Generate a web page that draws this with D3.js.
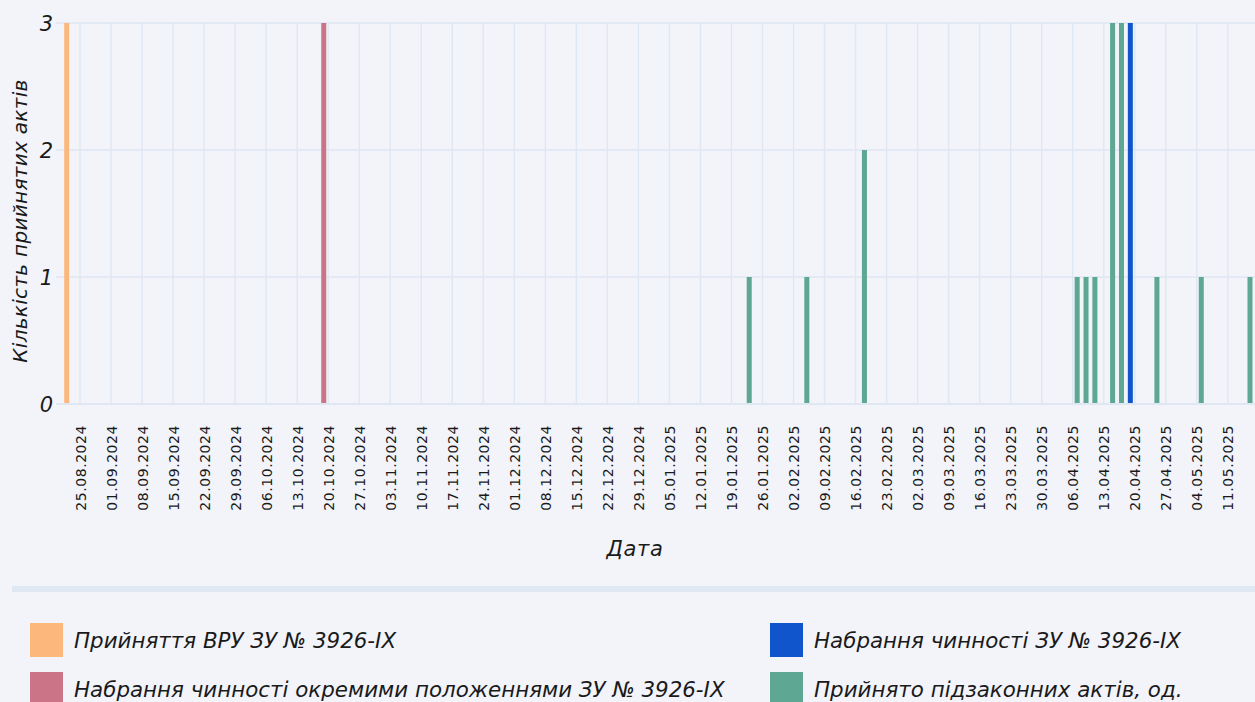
<!DOCTYPE html>
<html>
<head>
<meta charset="utf-8">
<script src="https://cdn.jsdelivr.net/npm/d3@7"></script>
<style>
  html, body { margin: 0; padding: 0; background: #f2f4fa; overflow: hidden; }
  svg { display: block; font-family: "DejaVu Sans", sans-serif; }
</style>
</head>
<body>
<svg id="drawing_region"></svg>
<script>
// series: dates and counts
const adoptDates = ['2024-08-22'];
const adoptValues = [3];

const partialDates = ['2024-10-19'];
const partialValues = [3];

const effectDates = ['2025-04-19'];
const effectValues = [3];

const actsDates = ['2025-01-23','2025-02-05','2025-02-18','2025-04-07','2025-04-09','2025-04-11',
                   '2025-04-15','2025-04-17','2025-04-25','2025-05-05','2025-05-16'];
const actsValues = [1,1,2,1,1,1,3,3,1,1,1];

const seriesNames = ['Прийняття ВРУ ЗУ № 3926-IX',
                     'Набрання чинності окремими положеннями ЗУ № 3926-IX',
                     'Набрання чинності ЗУ № 3926-IX',
                     'Прийнято підзаконних актів, од.'];
const seriesColors = ['#fcb87c', '#cc7487', '#1155cc', '#5da793'];

const yTicks = [0, 1, 2, 3];
// x range of the axis (bar period is one day)
const xStart = '2024-08-19T14:00:00Z';
const xEnd = '2025-05-17T08:30:00Z';
const barDays = 1.13;

const series = [
    {name: seriesNames[0], color: seriesColors[0], dates: adoptDates, values: adoptValues},
    {name: seriesNames[1], color: seriesColors[1], dates: partialDates, values: partialValues},
    {name: seriesNames[2], color: seriesColors[2], dates: effectDates, values: effectValues},
    {name: seriesNames[3], color: seriesColors[3], dates: actsDates, values: actsValues}
];

const config = {
    width: 1255,
    height: 702,
    margin: {top: 23, left: 56},
    inner_width: 1200,
    inner_height: 381,
    grid: '#dfe7f3'
};

const svg = d3.select('#drawing_region')
    .attr('width', config.width)
    .attr('height', config.height);

svg.append('rect')
    .attr('width', config.width)
    .attr('height', config.height)
    .attr('fill', '#f2f4fa');

const chart = svg.append('g')
    .attr('transform', `translate(${config.margin.left}, ${config.margin.top})`);

const xscale = d3.scaleUtc()
    .domain([new Date(xStart), new Date(xEnd)])
    .range([0, config.inner_width]);

const yscale = d3.scaleLinear()
    .domain([0, 3])
    .range([config.inner_height, 0]);

const weeks = d3.utcSunday.range(new Date(xStart), new Date(xEnd));

// grid
chart.selectAll('.vgrid')
    .data(weeks)
    .enter()
    .append('line')
    .attr('x1', d => xscale(d))
    .attr('x2', d => xscale(d))
    .attr('y1', 0)
    .attr('y2', config.inner_height)
    .attr('stroke', config.grid)
    .attr('stroke-width', 1.4);

chart.selectAll('.hgrid')
    .data(yTicks)
    .enter()
    .append('line')
    .attr('x1', 0)
    .attr('x2', config.inner_width)
    .attr('y1', d => yscale(d))
    .attr('y2', d => yscale(d))
    .attr('stroke', config.grid)
    .attr('stroke-width', d => d == 0 ? 2.2 : 1.6);

// bars
series.forEach(s => {
    const rows = s.dates.map((d, i) => ({date: new Date(d + 'T00:00:00Z'), value: s.values[i]}));
    const half = barDays * 864e5 / 2;
    chart.append('g').selectAll('rect')
        .data(rows)
        .enter()
        .append('rect')
        .attr('x', d => xscale(new Date(+d.date - half)))
        .attr('width', d => xscale(new Date(+d.date + half)) - xscale(new Date(+d.date - half)))
        .attr('y', d => yscale(d.value))
        .attr('height', d => yscale(0) - yscale(d.value) - 1)
        .attr('fill', s.color);
});

// axes
const xaxis = d3.axisBottom(xscale)
    .tickValues(weeks)
    .tickFormat(d3.utcFormat('%d.%m.%Y'))
    .tickSize(0);

const xaxis_group = chart.append('g')
    .attr('transform', `translate(0, ${config.inner_height})`)
    .call(xaxis);
xaxis_group.select('.domain').remove();
xaxis_group.selectAll('text')
    .attr('transform', 'rotate(-90)')
    .attr('text-anchor', 'end')
    .attr('x', -21)
    .attr('y', 0)
    .attr('dy', '0.36em')
    .style('font-size', '14px')
    .style('letter-spacing', '0.55px')
    .style('font-family', '"DejaVu Sans", sans-serif')
    .attr('fill', '#1a1a1a');

const yaxis = d3.axisLeft(yscale)
    .tickValues(yTicks)
    .tickFormat(d3.format('d'))
    .tickSize(0);

const yaxis_group = chart.append('g').call(yaxis);
yaxis_group.select('.domain').remove();
yaxis_group.selectAll('text')
    .attr('x', -3)
    .attr('dy', '0.36em')
    .style('font-size', '21px')
    .style('font-style', 'italic')
    .style('font-family', '"DejaVu Sans", sans-serif')
    .attr('fill', '#1a1a1a');

// titles
svg.append('text')
    .attr('transform', 'rotate(-90)')
    .attr('x', -221)
    .attr('y', 27)
    .attr('text-anchor', 'middle')
    .style('font-size', '20px')
    .style('letter-spacing', '0.3px')
    .style('font-style', 'italic')
    .attr('fill', '#1a1a1a')
    .text('Кількість прийнятих актів');

svg.append('text')
    .attr('x', 635)
    .attr('y', 556)
    .attr('text-anchor', 'middle')
    .style('font-size', '21px')
    .style('letter-spacing', '0.6px')
    .style('font-style', 'italic')
    .attr('fill', '#1a1a1a')
    .text('Дата');

// separator
svg.append('rect')
    .attr('x', 12)
    .attr('y', 586)
    .attr('width', config.width - 12)
    .attr('height', 6)
    .attr('fill', '#dfe7f3');

// legend
const legendPos = [[30, 623], [30, 672], [770, 623], [770, 672]];
const legend = svg.append('g').selectAll('g')
    .data(series)
    .enter()
    .append('g')
    .attr('transform', (d, i) => `translate(${legendPos[i][0]}, ${legendPos[i][1]})`);

legend.append('rect')
    .attr('width', 33)
    .attr('height', 34)
    .attr('fill', d => d.color);

legend.append('text')
    .attr('x', 44)
    .attr('y', 17)
    .attr('dy', '0.36em')
    .style('font-size', '21.4px')
    .style('font-style', 'italic')
    .attr('fill', '#1a1a1a')
    .text(d => d.name);
</script>
</body>
</html>
